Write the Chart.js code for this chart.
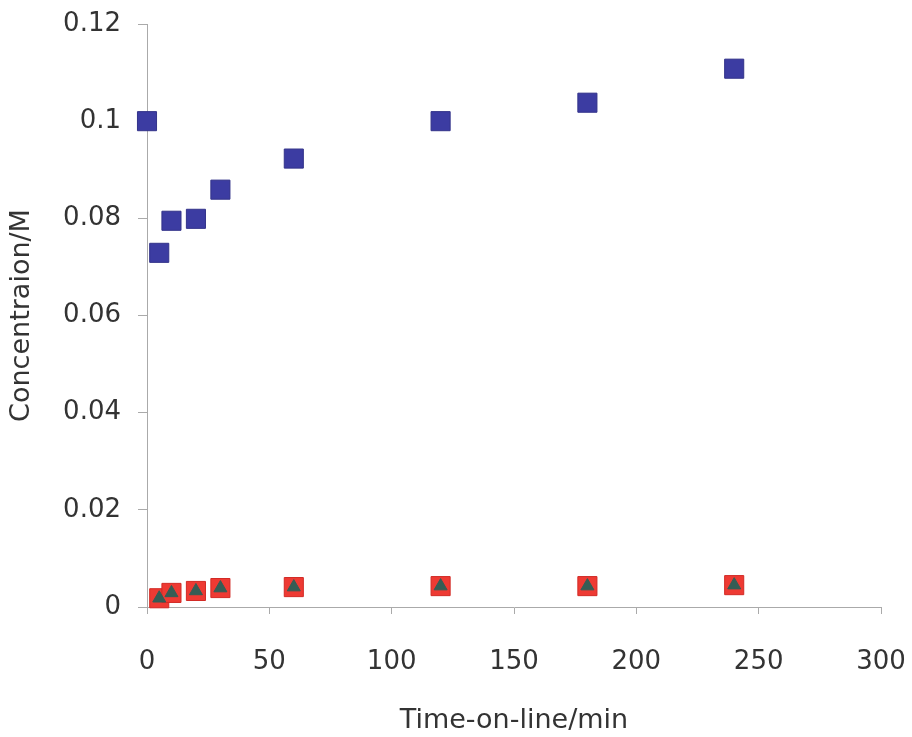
<!DOCTYPE html>
<html>
<head>
<meta charset="utf-8">
<script src="https://cdn.jsdelivr.net/npm/chart.js@4/dist/chart.umd.min.js"></script>
<style>
  html, body { margin: 0; padding: 0; background: #fff; }
  #wrap { width: 912px; height: 737px; }
</style>
</head>
<body>
<div id="wrap"><canvas id="myChart"></canvas></div>
<script>
// time on line (min)
const timeBlue = [0, 5, 10, 20, 30, 60, 120, 180, 240];
const concBlue = [0.1, 0.0729, 0.0795, 0.0799, 0.0859, 0.0923, 0.1, 0.1038, 0.1108];

const timeLow = [5, 10, 20, 30, 60, 120, 180, 240];
const concRed = [0.0018, 0.0029, 0.0033, 0.0039, 0.0041, 0.0043, 0.0043, 0.0045];
const concGreen = [0.0018, 0.0029, 0.0033, 0.0039, 0.0041, 0.0043, 0.0043, 0.0045];

const yTicks = [0, 0.02, 0.04, 0.06, 0.08, 0.1, 0.12];
const xTicks = [0, 50, 100, 150, 200, 250, 300];

function pts(xs, ys) {
  return xs.map(function (x, i) { return { x: x, y: ys[i] }; });
}

const fam = '"DejaVu Sans", sans-serif';
const tickFont = { family: fam, size: 26 };
const titleFont = { family: fam, size: 27 };

const ctx = document.getElementById('myChart').getContext('2d');
const myChart = new Chart(ctx, {
  type: 'scatter',
  data: {
    datasets: [
      {
        label: 'blue',
        data: pts(timeBlue, concBlue),
        pointStyle: 'rect',
        pointRadius: 13.5,
        backgroundColor: '#3c3ca2',
        borderColor: '#33338a',
        borderWidth: 1,
        order: 2
      },
      {
        label: 'red',
        data: pts(timeLow, concRed),
        pointStyle: 'rect',
        pointRadius: 13.5,
        backgroundColor: '#ee3a33',
        borderColor: '#d22a25',
        borderWidth: 1,
        order: 1
      },
      {
        label: 'green',
        data: pts(timeLow, concGreen),
        pointStyle: 'triangle',
        pointRadius: 7.5,
        backgroundColor: '#355d55',
        borderColor: '#355d55',
        borderWidth: 1,
        order: 0
      }
    ]
  },
  options: {
    responsive: true,
    maintainAspectRatio: false,
    animation: false,
    clip: false,
    layout: { padding: { top: 24, right: 31, left: 0, bottom: 0 } },
    plugins: { legend: { display: false }, tooltip: { enabled: false } },
    scales: {
      x: {
        type: 'linear',
        min: 0,
        max: 300,
        afterBuildTicks: function (scale) {
          scale.ticks = xTicks.map(function (v) { return { value: v }; });
        },
        afterFit: function (scale) {
          scale.height = 130;
          scale.paddingLeft = 0;
          scale.paddingRight = 0;
        },
        grid: { drawOnChartArea: false, color: '#aaaaaa', tickLength: 7 },
        border: { color: '#aaaaaa' },
        ticks: { color: '#333333', font: tickFont, padding: 33, maxRotation: 0 },
        title: {
          display: true,
          text: 'Time-on-line/min',
          color: '#333333',
          font: titleFont,
          padding: { top: 4, bottom: 0 }
        }
      },
      y: {
        type: 'linear',
        min: 0,
        max: 0.12,
        afterBuildTicks: function (scale) {
          scale.ticks = yTicks.map(function (v) { return { value: v }; });
        },
        afterFit: function (scale) {
          scale.width = 147;
          scale.paddingTop = 0;
          scale.paddingBottom = 0;
        },
        grid: { drawOnChartArea: false, color: '#aaaaaa', tickLength: 9 },
        border: { color: '#aaaaaa' },
        ticks: {
          color: '#333333',
          font: tickFont,
          padding: 17,
          callback: function (value) { return String(+value.toFixed(2)); }
        },
        title: {
          display: true,
          text: 'Concentraion/M',
          color: '#333333',
          font: titleFont,
          padding: { top: 6, bottom: 0 }
        }
      }
    }
  }
});
</script>
</body>
</html>
